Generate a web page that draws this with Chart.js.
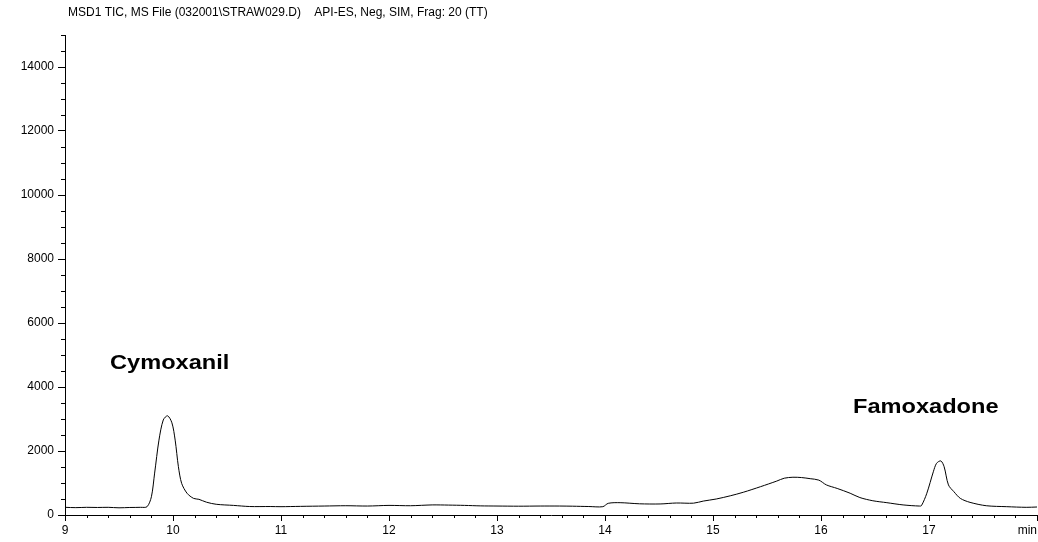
<!DOCTYPE html>
<html lang="en">
<head>
    <meta charset="UTF-8">
    <title>MSD1 TIC</title>
    <script src="https://cdn.jsdelivr.net/npm/chart.js"></script>
    <style>
        body {
            margin: 0;
            background: #ffffff;
        }
        #wrap {
            width: 1038px;
            height: 542px;
        }
    </style>
</head>
<body>
    <div id="wrap"><canvas id="tic"></canvas></div>

    <script>
        const titleText = 'MSD1 TIC, MS File (032001\\STRAW029.D)    API-ES, Neg, SIM, Frag: 20 (TT)';
        const unitText = 'min';

        // retention time (min)
        const times = [
            9.00, 9.10, 9.20, 9.30, 9.40, 9.50, 9.60, 9.70, 9.76, 9.80,
            9.83, 9.87, 9.91, 9.95, 9.99, 10.02, 10.05, 10.08, 10.13, 10.19,
            10.24, 10.31, 10.40, 10.56, 10.71, 10.90, 11.00, 11.18, 11.40, 11.60,
            11.80, 12.00, 12.20, 12.40, 12.55, 12.70, 12.85, 13.00, 13.20, 13.40,
            13.58, 13.70, 13.85, 13.98, 14.03, 14.14, 14.32, 14.51, 14.66, 14.82,
            14.91, 15.03, 15.16, 15.28, 15.44, 15.59, 15.66, 15.74, 15.82, 15.90,
            15.98, 16.05, 16.15, 16.27, 16.36, 16.48, 16.61, 16.76, 16.91, 16.93,
            16.98, 17.04, 17.07, 17.11, 17.14, 17.18, 17.23, 17.29, 17.38, 17.53,
            17.72, 17.90, 18.00
        ];

        // total ion current (counts)
        const tic = [
            240, 230, 240, 235, 240, 225, 235, 240, 260, 570,
            1310, 2340, 2970, 3100, 2880, 2340, 1510, 990, 680, 520,
            490, 400, 335, 300, 265, 265, 260, 270, 280, 290,
            280, 300, 290, 315, 310, 300, 285, 280, 275, 280,
            280, 275, 265, 260, 365, 385, 350, 345, 375, 370,
            435, 500, 600, 710, 885, 1060, 1150, 1180, 1170, 1135,
            1090, 940, 830, 680, 545, 445, 385, 315, 280, 292,
            680, 1350, 1615, 1690, 1510, 940, 730, 520, 395, 290,
            260, 240, 250
        ];

        const xTicks = [9, 10, 11, 12, 13, 14, 15, 16, 17, 18];
        const xTickLabels = ['9', '10', '11', '12', '13', '14', '15', '16', '17', ''];
        const yTicks = [0, 2000, 4000, 6000, 8000, 10000, 12000, 14000];

        // compound labels, anchored in data units
        const peakNames = ['Cymoxanil', 'Famoxadone'];
        const peakLabelX = [9.417, 16.296];
        const peakLabelY = [4720, 3345];

        const points = times.map((t, i) => ({ x: t, y: tic[i] }));

        // short ticks between the labelled ones, plus title, unit and compound names
        const extras = {
            id: 'extras',
            afterDraw(chart) {
                const ctx = chart.ctx;
                const xs = chart.scales.x;
                const ys = chart.scales.y;
                const area = chart.chartArea;
                ctx.save();
                ctx.strokeStyle = '#000';
                ctx.lineWidth = 1;
                ctx.beginPath();
                for (let v = 500; v <= 15000; v += 500) {
                    if (v % 2000 === 0) continue;
                    const py = Math.round(ys.getPixelForValue(v)) + 0.5;
                    ctx.moveTo(area.left - 4, py);
                    ctx.lineTo(area.left, py);
                }
                for (let k = 46; k < 90; k++) {
                    if (k % 5 === 0) continue;
                    const px = Math.round(xs.getPixelForValue(k / 5)) + 0.5;
                    ctx.moveTo(px, area.bottom);
                    ctx.lineTo(px, area.bottom + 3);
                }
                ctx.stroke();

                ctx.fillStyle = '#000';
                ctx.textBaseline = 'middle';
                ctx.textAlign = 'left';
                ctx.font = '12px "Liberation Sans", Arial, sans-serif';
                ctx.fillText(titleText, 68, 13);

                ctx.textAlign = 'right';
                ctx.fillText(unitText, area.right, area.bottom + 16);

                // the peak names are set in a wide bold face
                ctx.textAlign = 'left';
                ctx.font = 'bold 20px "Liberation Sans", Arial, sans-serif';
                peakNames.forEach((name, i) => {
                    ctx.save();
                    ctx.translate(xs.getPixelForValue(peakLabelX[i]), ys.getPixelForValue(peakLabelY[i]));
                    ctx.scale(1.18, 1);
                    ctx.fillText(name, 0, 0);
                    ctx.restore();
                });
                ctx.restore();
            }
        };

        new Chart(document.getElementById('tic'), {
            type: 'line',
            data: {
                datasets: [{
                    data: points,
                    borderColor: '#000',
                    borderWidth: 1,
                    pointRadius: 0,
                    tension: 0.3,
                    fill: false
                }]
            },
            options: {
                responsive: true,
                maintainAspectRatio: false,
                animation: false,
                layout: { padding: { left: 0, right: 1, top: 35, bottom: 0 } },
                plugins: {
                    legend: { display: false },
                    tooltip: { enabled: false }
                },
                scales: {
                    x: {
                        type: 'linear',
                        min: 9,
                        max: 18,
                        afterBuildTicks: (scale) => {
                            scale.ticks = xTicks.map(v => ({ value: v }));
                        },
                        afterFit: (scale) => {
                            scale.height = 27;
                            scale.paddingLeft = 0;
                            scale.paddingRight = 0;
                        },
                        ticks: {
                            color: '#000',
                            padding: 2,
                            maxRotation: 0,
                            autoSkip: false,
                            font: { family: '"Liberation Sans", Arial, sans-serif', size: 12 },
                            callback: (v) => xTickLabels[xTicks.indexOf(v)]
                        },
                        grid: {
                            drawOnChartArea: false,
                            tickLength: 6,
                            tickColor: '#000'
                        },
                        border: { color: '#000', width: 1 }
                    },
                    y: {
                        min: 0,
                        max: 15000,
                        afterBuildTicks: (scale) => {
                            scale.ticks = yTicks.map(v => ({ value: v }));
                        },
                        afterFit: (scale) => { scale.width = 65; },
                        ticks: {
                            color: '#000',
                            padding: 4,
                            font: { family: '"Liberation Sans", Arial, sans-serif', size: 12 },
                            callback: (v) => String(v)
                        },
                        grid: {
                            drawOnChartArea: false,
                            tickLength: 7,
                            tickColor: '#000'
                        },
                        border: { color: '#000', width: 1 }
                    }
                }
            },
            plugins: [extras]
        });
    </script>
</body>
</html>
